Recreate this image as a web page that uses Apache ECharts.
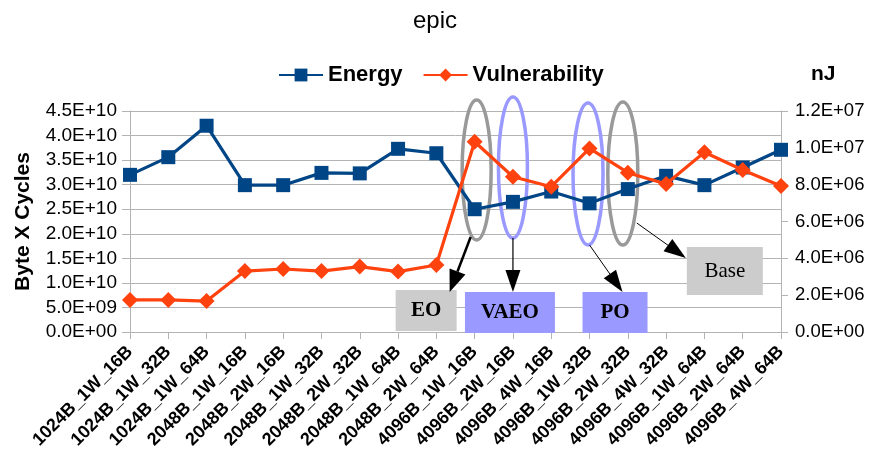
<!DOCTYPE html>
<html>
<head>
<meta charset="utf-8">
<script src="https://cdn.jsdelivr.net/npm/echarts@6/dist/echarts.min.js"></script>
<style>html,body{margin:0;padding:0;background:#fff}#c{width:870px;height:459px}</style>
</head>
<body>
<div id="c"></div>
<script>
const categories = ['1024B_1W_16B','1024B_1W_32B','1024B_1W_64B','2048B_1W_16B','2048B_2W_16B','2048B_1W_32B','2048B_2W_32B','2048B_1W_64B','2048B_2W_64B','4096B_1W_16B','4096B_2W_16B','4096B_4W_16B','4096B_1W_32B','4096B_2W_32B','4096B_4W_32B','4096B_1W_64B','4096B_2W_64B','4096B_4W_64B'];
const energy = [3.20e10,3.56e10,4.20e10,2.99e10,2.99e10,3.24e10,3.23e10,3.73e10,3.64e10,2.50e10,2.65e10,2.86e10,2.62e10,2.91e10,3.18e10,2.99e10,3.35e10,3.71e10];
const vulnerability = [1.74e6,1.74e6,1.68e6,3.31e6,3.42e6,3.31e6,3.55e6,3.28e6,3.64e6,1.033e7,8.43e6,7.89e6,9.97e6,8.65e6,8.04e6,9.76e6,8.80e6,7.93e6];
const seriesNames = ['Energy','Vulnerability'];
const leftTicks = {min:0, max:4.5e10, interval:5e9};
const rightTicks = {min:0, max:1.2e7, interval:2e6};

function sci(v){
  if (v === 0) return '0.0E+00';
  let s = v.toExponential(1).toUpperCase();
  return s.replace(/E([+-])(\d)$/, 'E$10$2');
}
const FONT = 'Liberation Sans';
const chart = echarts.init(document.getElementById('c'), null, {renderer:'canvas'});
const gridColor = '#b3b3b3';
chart.setOption({
  animation:false,
  backgroundColor:'#fff',
  title:[
    {text:'epic', left:'center', top:4, textStyle:{fontFamily:FONT, fontSize:24, fontWeight:'normal', color:'#000'}},
    {text:'nJ', left:806, top:59, textStyle:{fontFamily:FONT, fontSize:21, fontWeight:'bold', color:'#000'}}
  ],
  legend:{
    data:seriesNames, left:273, top:59, itemWidth:44, itemHeight:16, itemGap:20,
    textStyle:{fontFamily:FONT, fontSize:22, fontWeight:'bold', color:'#000'}
  },
  grid:{left:130, right:89, top:111, bottom:127, containLabel:false},
  xAxis:{
    type:'category', data:categories, boundaryGap:false,
    axisLine:{lineStyle:{color:gridColor}},
    axisTick:{show:true, length:7, lineStyle:{color:gridColor}},
    axisLabel:{rotate:45, margin:17, interval:0, fontFamily:FONT, fontSize:18, fontWeight:'bold', color:'#000'},
    splitLine:{show:false}
  },
  yAxis:[
    {type:'value', min:leftTicks.min, max:leftTicks.max, interval:leftTicks.interval,
     name:'Byte X Cycles', nameLocation:'middle', nameRotate:90, nameGap:96,
     nameTextStyle:{fontFamily:FONT, fontSize:21, fontWeight:'bold', color:'#000'},
     axisLine:{show:true, lineStyle:{color:gridColor}},
     axisTick:{show:true, length:8, lineStyle:{color:gridColor}},
     axisLabel:{formatter:sci, margin:13, fontFamily:FONT, fontSize:19, color:'#000'},
     splitLine:{show:true, lineStyle:{color:gridColor, width:1}}},
    {type:'value', min:rightTicks.min, max:rightTicks.max, interval:rightTicks.interval, position:'right',
     axisLine:{show:true, lineStyle:{color:gridColor}},
     axisTick:{show:true, length:7, lineStyle:{color:gridColor}},
     axisLabel:{formatter:sci, margin:14, fontFamily:FONT, fontSize:18.5, color:'#000'},
     splitLine:{show:false}}
  ],
  series:[
    {name:seriesNames[0], type:'line', yAxisIndex:0, data:energy, symbol:'rect', symbolSize:14,
     lineStyle:{color:'#004586', width:3.2}, itemStyle:{color:'#004586'}, z:3},
    {name:seriesNames[1], type:'line', yAxisIndex:1, data:vulnerability, symbol:'diamond', symbolSize:16,
     lineStyle:{color:'#ff420e', width:3.2}, itemStyle:{color:'#ff420e'}, z:4}
  ]
});

// annotation overlay anchored to category positions
function xc(i){ return chart.convertToPixel({xAxisIndex:0}, i); }
const GRAY = '#999999', BLUE = '#9999ff', GBOX = '#cccccc', BBOX = '#9999ff';
const g = [];
function ellipse(cx, cy, rx, ry, color){
  g.push({type:'ellipse', shape:{cx:cx, cy:cy, rx:rx, ry:ry}, style:{fill:null, stroke:color, lineWidth:3.5}, z:1});
}
function box(x1, x2, y1, y2, fill, text, bold){
  g.push({type:'rect', shape:{x:x1, y:y1, width:x2-x1, height:y2-y1}, style:{fill:fill}, z:1});
  g.push({type:'text', x:(x1+x2)/2, y:(y1+y2)/2, style:{text:text, fill:'#000', align:'center', verticalAlign:'middle',
    font:(bold?'bold ':'')+'21px "Liberation Serif", serif'}, z:1});
}
function arrow(sx, sy, tx, ty, lw, L, W){
  const dx = tx-sx, dy = ty-sy, len = Math.hypot(dx,dy);
  const ux = dx/len, uy = dy/len, nx = -uy, ny = ux;
  const bx = tx-ux*L, by = ty-uy*L;
  g.push({type:'line', shape:{x1:sx, y1:sy, x2:bx, y2:by}, style:{stroke:'#000', lineWidth:lw}, z:1});
  g.push({type:'polygon', shape:{points:[[tx,ty],[bx+nx*W/2, by+ny*W/2],[bx-nx*W/2, by-ny*W/2]]}, style:{fill:'#000'}, z:1});
}
ellipse(xc(9)+2, 170, 14.5, 70, GRAY);
ellipse(xc(10), 167.5, 14.5, 70.5, BLUE);
ellipse(xc(12)-1.5, 174, 15, 71, BLUE);
ellipse(xc(13)-5, 173.5, 15, 71.5, GRAY);
box(xc(9)-79, xc(9)-18, 290, 331, GBOX, 'EO', true);
box(xc(10)-48, xc(10)+42, 292, 333, BBOX, 'VAEO', true);
box(xc(12)-7, xc(12)+58, 292, 333, BBOX, 'PO', true);
box(xc(13)+59, xc(13)+135, 247, 295, GBOX, 'Base', false);
arrow(xc(9)-4, 237, xc(9)-25, 292, 2.5, 22, 17);
arrow(xc(10), 238, xc(10), 292, 1.2, 22, 15);
arrow(xc(12), 245, xc(12)+33, 292, 1, 22, 15);
arrow(xc(13)+9, 223, xc(13)+58, 258, 1, 22, 15);
chart.setOption({graphic:{elements:g}});
</script>
</body>
</html>
